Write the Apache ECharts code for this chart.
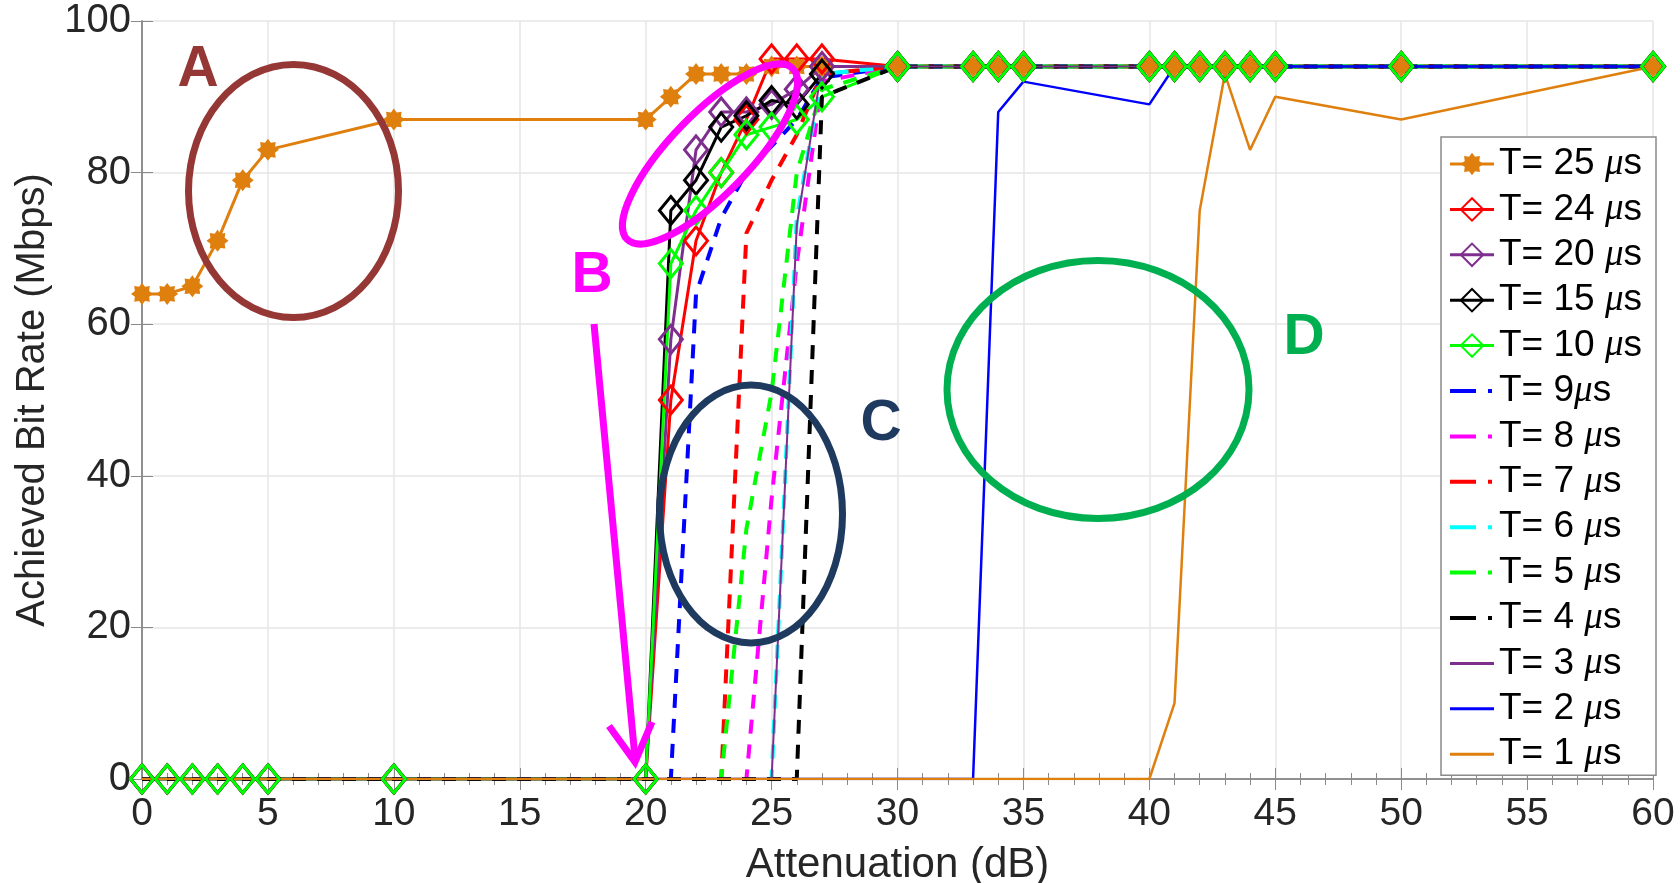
<!DOCTYPE html>
<html>
<head>
<meta charset="utf-8">
<title>Achieved Bit Rate</title>
<script src="https://cdn.jsdelivr.net/npm/echarts@6/dist/echarts.min.js"></script>
<style>
	html,body{margin:0;padding:0;background:#fff;}
	.Tu{width:1680px;height:883px;}
</style>
</head>
<body>
<div class="Tu"></div>
<script>
// attenuation points (dB) shared by every curve
var xs = [0,1,2,3,4,5,10,20,21,22,23,24,25,26,27,30,33,34,35,40,41,42,43,44,45,50,60];

// achieved bit rate (Mbps), one list per T
var t25 = [64,64,65,71,79,83,87,87,90,93,93,93,94,94,94,94,94,94,94,94,94,94,94,94,94,94,94];
var t24 = [0,0,0,0,0,0,0,0,50,71,80,87,95,95,95,94,94,94,94,94,94,94,94,94,94,94,94];
var t20 = [0,0,0,0,0,0,0,0,58,83,88,88,89,91,94,94,94,94,94,94,94,94,94,94,94,94,94];
var t15 = [0,0,0,0,0,0,0,0,75,79,86,87.5,89.5,89,93,94,94,94,94,94,94,94,94,94,94,94,94];
var t10 = [0,0,0,0,0,0,0,0,68,75,80,85,86,87,90,94,94,94,94,94,94,94,94,94,94,94,94];
var t9  = [0,0,0,0,0,0,0,0,0,64,74,80,83.5,87,92.5,94,94,94,94,94,94,94,94,94,94,94,94];
var t8  = [0,0,0,0,0,0,0,0,0,0,0,0,37,68,92,94,94,94,94,94,94,94,94,94,94,94,94];
var t7  = [0,0,0,0,0,0,0,0,0,0,0,72,79,85,93,94,94,94,94,94,94,94,94,94,94,94,94];
var t6  = [0,0,0,0,0,0,0,0,0,0,0,0,0,74,93,94,94,94,94,94,94,94,94,94,94,94,94];
var t5  = [0,0,0,0,0,0,0,0,0,0,0,33,51,80,91,94,94,94,94,94,94,94,94,94,94,94,94];
var t4  = [0,0,0,0,0,0,0,0,0,0,0,0,0,0,90,94,94,94,94,94,94,94,94,94,94,94,94];
var t3  = [0,0,0,0,0,0,0,0,0,0,0,0,0,73,94,94,94,94,94,94,94,94,94,94,94,94,94];
var t2  = [0,0,0,0,0,0,0,0,0,0,0,0,0,0,0,0,0,88,92,89,94,94,94,94,94,94,94];
var t1  = [0,0,0,0,0,0,0,0,0,0,0,0,0,0,0,0,0,0,0,0,10,75,93,83,90,87,94];

var names = ['T= 25 μs','T= 24 μs','T= 20 μs','T= 15 μs','T= 10 μs','T= 9μs','T= 8 μs',
	'T= 7 μs','T= 6 μs','T= 5 μs','T= 4 μs','T= 3 μs','T= 2 μs','T= 1 μs'];

var xTicks = [0,5,10,15,20,25,30,35,40,45,50,55,60];
var yTicks = [0,20,40,60,80,100];

var ziti = '"Liberation Sans", Arial, sans-serif';

// asterisk marker (8 blunt spikes)
var xing = 'path://';
for (var i = 0; i < 16; i++) {
	var r = i % 2 ? 7 : 10;
	var a = Math.PI * i / 8;
	xing += (i ? 'L' : 'M') + (10 + r * Math.sin(a)).toFixed(2) + ',' + (10 - r * Math.cos(a)).toFixed(2);
}
xing += 'Z';

function pairs(ys) {
	return xs.map(function (x, k) { return [x, ys[k]]; });
}

function biaoji(name, ys, color, sym) {
	var s = {
		name: name, type: 'line', data: pairs(ys),
		symbol: sym, symbolSize: [23, 28],
		lineStyle: {color: color, width: 3},
		itemStyle: {color: 'rgba(0,0,0,0)', borderColor: color, borderWidth: 3}
	};
	if (sym == xing) {
		s.symbolSize = 22;
		s.itemStyle = {color: color};
	}
	return s;
}
function xuxian(name, ys, color) {
	return {
		name: name, type: 'line', data: pairs(ys), symbol: 'none',
		lineStyle: {color: color, width: 4, type: [14, 11]},
		itemStyle: {color: color}
	};
}
function xixian(name, ys, color, w) {
	return {
		name: name, type: 'line', data: pairs(ys), symbol: 'none',
		lineStyle: {color: color, width: w},
		itemStyle: {color: color}
	};
}

var series = [
	biaoji(names[0], t25, '#DF7F0E', xing),
	biaoji(names[1], t24, '#FF0000', 'diamond'),
	biaoji(names[2], t20, '#7E2F8E', 'diamond'),
	biaoji(names[3], t15, '#000000', 'diamond'),
	biaoji(names[4], t10, '#00FF00', 'diamond'),
	xuxian(names[5], t9, '#0000FF'),
	xuxian(names[6], t8, '#FF00FF'),
	xuxian(names[7], t7, '#FF0000'),
	xuxian(names[8], t6, '#00FFFF'),
	xuxian(names[9], t5, '#00FF00'),
	xuxian(names[10], t4, '#000000'),
	xixian(names[11], t3, '#7E2F8E', 2),
	xixian(names[12], t2, '#0000FF', 2.5),
	xixian(names[13], t1, '#DF7F0E', 2.5)
];

// legend: dashed entries drawn as "dash  dot", plain ones hide the symbol
var legendData = names.map(function (n, k) {
	var it = {name: n, lineStyle: {width: 3}};
	if (k >= 5 && k <= 10) {
		it.lineStyle = {type: [26, 12, 4, 20], width: 4};
		it.itemStyle = {opacity: 0};
	}
	if (k >= 11) it.itemStyle = {opacity: 0};
	return it;
});

var axisGray = '#8a8a8a';
var Tu = echarts.init(document.querySelector('.Tu'));
option = {
	animation: false,
	backgroundColor: '#fff',
	textStyle: {fontFamily: ziti},
	grid: {left: 142, right: 27, top: 21, bottom: 104, outerBoundsMode: 'none'},
	legend: {
		orient: 'vertical', right: 24, top: 137,
		data: legendData,
		itemWidth: 44, itemHeight: 28, itemGap: 8.4,
		padding: [8.5, 14, 2.5, 7],
		backgroundColor: '#fff', borderColor: '#8a8a8a', borderWidth: 1.5,
		formatter: function (n) { return n.replace('μ', '{m|μ}'); },
		textStyle: {
			fontFamily: ziti, fontSize: 37, color: '#000',
			rich: {m: {fontFamily: '"Liberation Serif", serif', fontStyle: 'italic', fontSize: 37, color: '#000'}}
		}
	},
	xAxis: [{
		type: 'value', min: 0, max: 60, interval: 5, position: 'bottom',
		name: 'Attenuation (dB)', nameLocation: 'middle', nameGap: 65,
		nameTextStyle: {fontSize: 42, color: '#262626', fontFamily: ziti},
		axisLine: {lineStyle: {color: axisGray, width: 1.5}},
		axisTick: {inside: true, length: 11, lineStyle: {color: axisGray}},
		minorTick: {show: true, splitNumber: 5, length: 6, lineStyle: {color: axisGray}},
		axisLabel: {fontSize: 39, color: '#262626', margin: 16, fontFamily: ziti,
			formatter: function (v) { return xTicks.indexOf(v) > -1 ? String(v) : ''; }},
		splitLine: {show: true, lineStyle: {color: '#e6e6e6', width: 1.5}}
	}, {
		type: 'value', min: 0, max: 60, interval: 5, position: 'top',
		axisLine: {lineStyle: {color: axisGray, width: 1.5}},
		axisTick: {inside: true, length: 11, lineStyle: {color: axisGray}},
		minorTick: {show: true, splitNumber: 5, length: 6, lineStyle: {color: axisGray}},
		axisLabel: {show: false},
		splitLine: {show: false}
	}],
	yAxis: [{
		type: 'value', min: 0, max: 100, interval: 20,
		name: 'Achieved Bit Rate (Mbps)', nameLocation: 'middle', nameGap: 86,
		nameTextStyle: {fontSize: 40, color: '#262626', fontFamily: ziti},
		axisLine: {show: true, lineStyle: {color: axisGray, width: 1.5}},
		axisTick: {show: true, inside: true, length: 11, lineStyle: {color: axisGray}},
		axisLabel: {fontSize: 40, color: '#262626', margin: 11, fontFamily: ziti,
			formatter: function (v) { return yTicks.indexOf(v) > -1 ? String(v) : ''; }},
		splitLine: {show: true, lineStyle: {color: '#e6e6e6', width: 1.5}}
	}, {
		type: 'value', min: 0, max: 100, interval: 20, position: 'right',
		axisLine: {show: true, lineStyle: {color: axisGray, width: 1.5}},
		axisTick: {show: true, inside: true, length: 11, lineStyle: {color: axisGray}},
		axisLabel: {show: false},
		splitLine: {show: false}
	}],
	series: series,
	// hand drawn notes A-D laid over the plot
	graphic: [
		{type: 'ellipse', z: 100, shape: {cx: 293.5, cy: 191, rx: 105, ry: 126.5},
			style: {fill: 'none', stroke: '#953735', lineWidth: 7}},
		{type: 'text', z: 100, x: 198, y: 70,
			style: {text: 'A', fill: '#953735', font: 'bold 57px ' + ziti, align: 'center', verticalAlign: 'middle', textAlign: 'center', textVerticalAlign: 'middle'}},
		{type: 'ellipse', z: 100, x: 710, y: 154, rotation: 46 * Math.PI / 180, shape: {cx: 0, cy: 0, rx: 119, ry: 40},
			style: {fill: 'none', stroke: '#FF00FF', lineWidth: 7}},
		{type: 'text', z: 100, x: 592, y: 276,
			style: {text: 'B', fill: '#FF00FF', font: 'bold 57px ' + ziti, align: 'center', verticalAlign: 'middle', textAlign: 'center', textVerticalAlign: 'middle'}},
		{type: 'polyline', z: 100, shape: {points: [[594, 324], [635, 758]]},
			style: {fill: 'none', stroke: '#FF00FF', lineWidth: 7}},
		{type: 'polyline', z: 100, shape: {points: [[609, 726], [635, 762], [652, 722]]},
			style: {fill: 'none', stroke: '#FF00FF', lineWidth: 7, lineJoin: 'miter'}},
		{type: 'ellipse', z: 100, shape: {cx: 751, cy: 514, rx: 91.5, ry: 129},
			style: {fill: 'none', stroke: '#1F3A5F', lineWidth: 7}},
		{type: 'text', z: 100, x: 881, y: 424,
			style: {text: 'C', fill: '#1F3A5F', font: 'bold 57px ' + ziti, align: 'center', verticalAlign: 'middle', textAlign: 'center', textVerticalAlign: 'middle'}},
		{type: 'ellipse', z: 100, shape: {cx: 1098, cy: 389.5, rx: 151, ry: 129},
			style: {fill: 'none', stroke: '#00B050', lineWidth: 7}},
		{type: 'text', z: 100, x: 1304, y: 338,
			style: {text: 'D', fill: '#00B050', font: 'bold 57px ' + ziti, align: 'center', verticalAlign: 'middle', textAlign: 'center', textVerticalAlign: 'middle'}}
	]
};
Tu.setOption(option);
</script>
</body>
</html>
